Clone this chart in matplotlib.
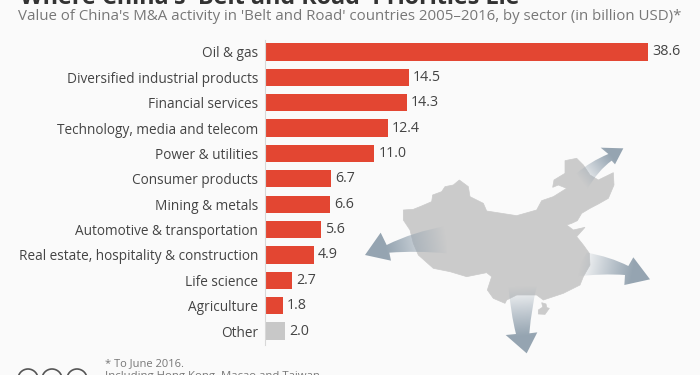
import numpy as np
import matplotlib
matplotlib.use("Agg")
import matplotlib.pyplot as plt
from matplotlib.path import Path
from matplotlib.patches import PathPatch, Polygon, Circle
from matplotlib.colors import to_rgb

plt.rcParams['font.family'] = ['Open Sans', 'DejaVu Sans']

sectors = ["Oil & gas", "Diversified industrial products", "Financial services",
           "Technology, media and telecom", "Power & utilities", "Consumer products",
           "Mining & metals", "Automotive & transportation",
           "Real estate, hospitality & construction", "Life science", "Agriculture", "Other"]
values = [38.6, 14.5, 14.3, 12.4, 11.0, 6.7, 6.6, 5.6, 4.9, 2.7, 1.8, 2.0]
colors = ["#e34632"] * 11 + ["#c8c8c8"]

title = "Where China's 'Belt and Road' Priorities Lie"
subtitle = "Value of China's M&A activity in 'Belt and Road' countries 2005\u20132016, by sector (in billion USD)*"
notes = ["* To June 2016.", "Including Hong Kong, Macao and Taiwan"]

# outline of the map, in pixels of the 3x crop starting at (350,130)
china = [(160,240),(190,238),(215,228),(245,215),(248,195),(275,185),(285,170),(310,165),(328,150),(355,170),
         (360,200),(400,220),(410,243),(455,250),(500,257),(560,240),(575,212),(610,200),(650,175),(625,165),
         (608,172),(612,150),(645,130),(645,92),(680,85),(700,105),(720,135),(745,150),(790,128),(792,165),
         (775,205),(745,222),(720,235),(695,250),(682,272),(665,280),(650,285),(670,300),(705,292),(680,320),
         (700,345),(718,370),(720,405),(700,440),(690,465),(640,490),(580,510),(560,495),(500,495),(470,510),
         (465,520),(430,505),(412,480),(425,440),(410,428),(350,440),(300,425),(250,415),(205,375),(190,340),
         (180,300),(160,270)]
taiwan = [(565,540),(580,530),(598,535),(585,553),(565,552)]
hainan = [(575,518),(588,522),(590,532),(578,530)]

# shaft end, head corner, tip, head corner, shaft end, ctrl, tail, tail, ctrl
arrow_left = [(110,345),(92,308),(45,375),(123,392),(118,368),(200,362),(290,370),(290,288),(190,305)]
arrow_right = [(835,408),(850,382),(900,448),(823,465),(825,435),(760,430),(670,440),(710,368),(780,380)]
arrow_top = [(775,72),(752,53),(820,55),(795,103),(785,92),(745,120),(710,180),(680,130),(720,95)]
arrow_down = [(498,612),(467,615),(530,670),(562,607),(538,610),(545,530),(560,470),(475,465),(482,550)]


def to_px(pts):
    return [(350 + x / 3, 130 + y / 3) for x, y in pts]


def draw_arrow(ax, pts):
    p = to_px(pts)
    verts = [p[0], p[1], p[2], p[3], p[4], p[5], p[6], p[7], p[8], p[0], p[0]]
    codes = [Path.MOVETO, Path.LINETO, Path.LINETO, Path.LINETO, Path.LINETO, Path.CURVE3, Path.CURVE3,
             Path.LINETO, Path.CURVE3, Path.CURVE3, Path.CLOSEPOLY]
    patch = PathPatch(Path(verts, codes), fc="none", ec="none")
    ax.add_patch(patch)
    # alpha fades from the tip to the tail
    tip = np.array(p[2])
    tail = (np.array(p[6]) + np.array(p[7])) / 2
    xx, yy = np.meshgrid(np.arange(700) + 0.5, np.arange(375) + 0.5)
    d = tail - tip
    t = ((xx - tip[0]) * d[0] + (yy - tip[1]) * d[1]) / (d @ d)
    t = np.clip(t, 0, 1)
    img = np.zeros((375, 700, 4))
    img[..., :3] = to_rgb("#95a4b1")
    img[..., 3] = np.clip(1.25 - 1.25 * t ** 1.2, 0, 1)
    im = ax.imshow(img, extent=(0, 700, 375, 0), interpolation="bilinear", zorder=3)
    im.set_clip_path(patch)


fig = plt.figure(figsize=(7, 3.75), dpi=100, facecolor="#fafafa")

# bars
ax = fig.add_axes([265 / 700, 30 / 375, 435 / 700, 305 / 375])
ax.set_facecolor("none")
ypos = np.arange(len(sectors))
ax.barh(ypos, values, height=0.68, color=colors, zorder=2)
ax.set_xlim(0, 435 / 9.92)
ax.set_ylim(11.55, -0.47)
ax.set_yticks(ypos, sectors, fontsize=9.8, color="#444444")
ax.set_xticks([])
ax.tick_params(axis="y", length=0, pad=5)
for s in ["top", "right", "bottom"]:
    ax.spines[s].set_visible(False)
ax.spines["left"].set_color("#d8d8d8")
for y, v in zip(ypos, values):
    ax.annotate(f"{v:.1f}", (v, y), xytext=(3, 0), textcoords="offset points", va="center",
                fontsize=10.3, color="#444444")

# map, arrows and text in pixel coordinates
ov = fig.add_axes([0, 0, 1, 1], zorder=-1)
ov.set_facecolor("none")
for shape in [china, taiwan, hainan]:
    ov.add_patch(Polygon(to_px(shape), closed=True, fc="#cbcbcb", ec="#cbcbcb", lw=0.5, zorder=2))
for arrow in [arrow_left, arrow_right, arrow_top, arrow_down]:
    draw_arrow(ov, arrow)
ov.set_xlim(0, 700)
ov.set_ylim(375, 0)
ov.axis("off")

ov.text(20, 4, title, fontsize=16.8, fontweight="bold", color="#333333", va="baseline", ha="left")
ov.text(18, 17, subtitle, fontsize=10.85, color="#777777", va="center", ha="left")
ov.text(105, 364, notes[0], fontsize=8, color="#777777", va="center", ha="left")
ov.text(105, 376, notes[1], fontsize=8.2, color="#777777", va="center", ha="left")
for cx in [28, 52, 77]:
    ov.add_patch(Circle((cx, 379), 10, fc="none", ec="#555555", lw=1.2))

fig.savefig("out.png", dpi=100, facecolor=fig.get_facecolor())
